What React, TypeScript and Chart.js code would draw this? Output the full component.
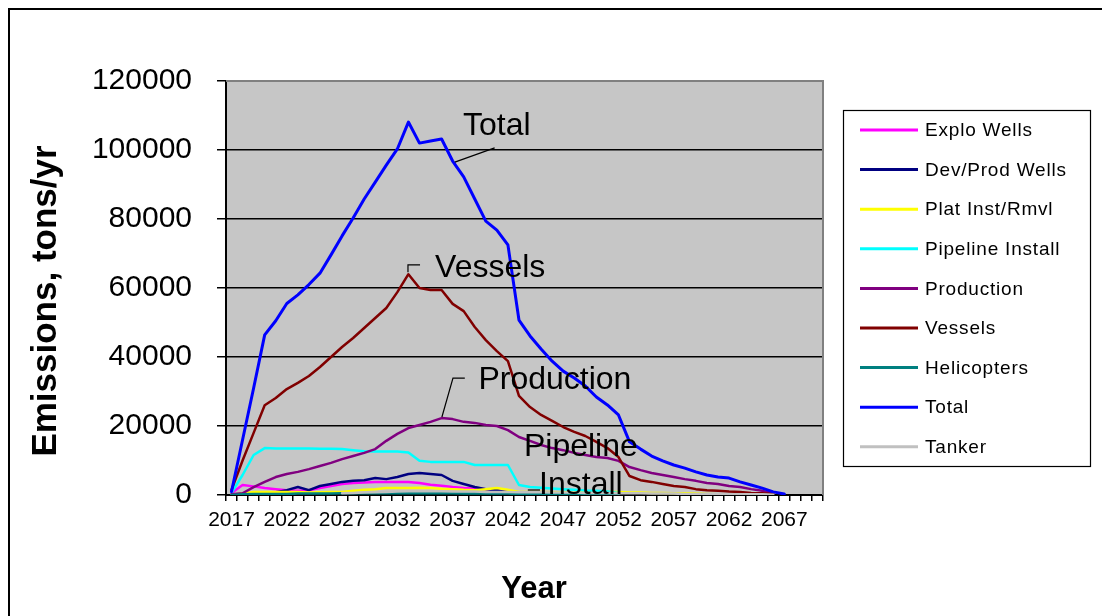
import React, { useEffect, useRef } from "react";
import { Chart, registerables } from "chart.js";

Chart.register(...registerables);

const FONT = 'Arial, "Liberation Sans", Helvetica, sans-serif';

const years = [
  "2017", "2018", "2019", "2020", "2021", "2022", "2023", "2024", "2025", "2026",
  "2027", "2028", "2029", "2030", "2031", "2032", "2033", "2034", "2035", "2036",
  "2037", "2038", "2039", "2040", "2041", "2042", "2043", "2044", "2045", "2046",
  "2047", "2048", "2049", "2050", "2051", "2052", "2053", "2054", "2055", "2056",
  "2057", "2058", "2059", "2060", "2061", "2062", "2063", "2064", "2065", "2066",
  "2067", "2068", "2069", "2070",
];

const xTickLabels = ["2017", "2022", "2027", "2032", "2037", "2042", "2047", "2052", "2057", "2062", "2067"];
const yTickStep = 20000;
const yMax = 120000;
const xTitle = "Year";
const yTitle = "Emissions, tons/yr";

const N = null;

const exploWells = [
  600, 2900, 2500, 2000, 1700, 1400, 1200, 1400, 2000, 2600,
  3200, 3500, 3600, 3800, 3800, 3800, 3800, 3500, 3000, 2700,
  2300, 2000, 1900, 1700, 1400, 1000, 600, 300, N, N,
  N, N, N, N, N, N, N, N, N, N,
  N, N, N, N, N, N, N, N, N, N,
  N, N, N, N,
];

const devProdWells = [
  0, 300, 500, 600, 800, 1400, 2300, 1400, 2600, 3200,
  3800, 4100, 4300, 4900, 4600, 5200, 6100, 6400, 6100, 5800,
  4100, 3200, 2300, 1700, 1400, 900, 500, 300, N, N,
  N, N, N, N, N, N, N, N, N, N,
  N, N, N, N, N, N, N, N, N, N,
  N, N, N, N,
];

const platInstRmvl = [
  0, 500, 900, 900, 900, 900, 900, 700, 800, 900,
  900, 1200, 1500, 1700, 2000, 2000, 2000, 2100, 2000, 1800,
  1700, 1500, 1400, 1700, 2000, 1500, 900, 900, 900, 800,
  800, 900, 900, 800, 900, 900, 700, 700, 600, 600,
  500, 500, 400, 300, 200, N, N, N, N, N,
  N, N, N, N,
];

const pipelineInstall = [
  600, 5800, 11600, 13600, 13500, 13500, 13500, 13500, 13400, 13400,
  13300, 13000, 12700, 12600, 12600, 12600, 12300, 9900, 9600, 9600,
  9600, 9600, 8700, 8700, 8700, 8700, 2900, 2300, 2100, 1900,
  1700, 1500, 1300, 1200, 1000, 600, N, N, N, N,
  N, N, N, N, N, N, N, N, N, N,
  N, N, N, N,
];

const production = [
  200, 500, 2300, 3800, 5200, 6100, 6700, 7500, 8400, 9300,
  10400, 11300, 12200, 13300, 15700, 17700, 19400, 20300, 21200, 22300,
  22000, 21200, 20900, 20300, 20000, 18800, 16800, 15700, 14500, 13600,
  13000, 12200, 11600, 11000, 10700, 9900, 8100, 7200, 6400, 5800,
  5200, 4600, 4100, 3500, 3200, 2600, 2300, 1700, 1200, 600,
  N, N, N, N,
];

const vessels = [
  1500, 10000, 18000, 26000, 28100, 30700, 32500, 34500, 37100, 40000,
  42900, 45500, 48400, 51300, 54200, 58800, 64000, 60000, 59400, 59400,
  55400, 53300, 48700, 44900, 41700, 38800, 28700, 25500, 23200, 21500,
  19700, 18300, 17100, 15400, 13600, 11000, 5500, 4300, 3800, 3200,
  2600, 2300, 1700, 1400, 1200, 1000, 900, 600, 500, 300,
  N, N, N, N,
];

const helicopters = [
  0, 200, 300, 300, 300, 300, 400, 400, 400, 400,
  500, 500, 500, 500, 500, 500, 500, 500, 500, 500,
  500, 400, 400, 400, 400, 400, 300, 300, 300, 300,
  300, 300, 300, 300, 300, 200, N, N, N, N,
  N, N, N, N, N, N, N, N, N, N,
  N, N, N, N,
];

const total = [
  1000, 16000, 31000, 46400, 50500, 55500, 58000, 61000, 64300, 69600,
  75100, 80300, 85800, 90700, 95600, 100300, 108100, 102000, 102600, 103200,
  96800, 92200, 85800, 79400, 76800, 72500, 50700, 46100, 42300, 38800,
  35900, 33900, 31600, 28400, 26100, 23200, 15400, 13300, 11300, 9900,
  8700, 7800, 6700, 5800, 5200, 4900, 3800, 2900, 2000, 900,
  300, N, N, N,
];

const tanker = [
  N, N, N, N, N, N, N, N, N, N,
  500, 600, 700, 800, 900, 1000, 1100, 1100, 1100, 1100,
  1000, 1000, 1000, 900, 900, 900, 800, 800, 800, 700,
  700, 700, 600, 600, 600, 500, 500, 500, 400, 400,
  400, 300, 300, 300, 300, 200, 200, 200, 200, 100,
  N, N, N, N,
];

const seriesNames = [
  "Explo Wells", "Dev/Prod Wells", "Plat Inst/Rmvl", "Pipeline Install",
  "Production", "Vessels", "Helicopters", "Total", "Tanker",
];
const seriesValues = [
  exploWells, devProdWells, platInstRmvl, pipelineInstall,
  production, vessels, helicopters, total, tanker,
];
const seriesColors = [
  "#FF00FF", "#000080", "#FFFF00", "#00FFFF",
  "#800080", "#800000", "#008080", "#0000FF", "#C0C0C0",
];

// in-chart callouts: [category index, value] anchors
const callouts = [
  { text: ["Total"], at: [24.0, 107000], leader: [[20.2, 96500], [23.8, 100600]] },
  { text: ["Vessels"], at: [23.4, 65800], leader: [[15.96, 64600], [15.96, 66700], [17.05, 66700]] },
  { text: ["Production"], at: [29.25, 33300], leader: [[19.03, 22600], [20.03, 33900], [21.1, 33900]] },
  { text: ["Pipeline", "Install"], at: [31.6, 13900], leader: [[26.8, 1450], [27.9, 1450]] },
];

const PLOT_BG = "#C6C6C6";

const decorPlugin = {
  id: "decor",
  beforeDraw(chart: any) {
    const { ctx, chartArea: a, width, height } = chart;
    ctx.save();
    ctx.fillStyle = "#ffffff";
    ctx.fillRect(0, 0, width, height);
    ctx.strokeStyle = "#000";
    ctx.lineWidth = 2;
    ctx.beginPath();
    ctx.moveTo(9, height);
    ctx.lineTo(9, 9);
    ctx.lineTo(width, 9);
    ctx.stroke();
    ctx.fillStyle = PLOT_BG;
    ctx.fillRect(a.left, a.top, a.right - a.left, a.bottom - a.top);
    ctx.restore();
  },
  beforeDatasetsDraw(chart: any) {
    const { ctx, chartArea: a } = chart;
    ctx.save();
    ctx.strokeStyle = "#808080";
    ctx.lineWidth = 2;
    ctx.beginPath();
    ctx.moveTo(a.left, a.top);
    ctx.lineTo(a.right, a.top);
    ctx.lineTo(a.right, a.bottom);
    ctx.stroke();
    ctx.restore();
  },
  afterDatasetsDraw(chart: any) {
    const { ctx } = chart;
    const xs = chart.scales.x;
    const ys = chart.scales.y;
    ctx.save();
    ctx.strokeStyle = "#000";
    ctx.lineWidth = 1.2;
    ctx.fillStyle = "#000";
    ctx.font = `32px ${FONT}`;
    ctx.textAlign = "center";
    ctx.textBaseline = "middle";
    for (const c of callouts) {
      ctx.beginPath();
      c.leader.forEach((p, i) => {
        const px = xs.getPixelForValue(p[0]);
        const py = ys.getPixelForValue(p[1]);
        if (i === 0) ctx.moveTo(px, py);
        else ctx.lineTo(px, py);
      });
      ctx.stroke();
      const tx = xs.getPixelForValue(c.at[0]);
      const ty = ys.getPixelForValue(c.at[1]);
      c.text.forEach((t, i) => ctx.fillText(t, tx, ty + i * 38));
    }
    ctx.restore();
  },
  afterDraw(chart: any) {
    const { ctx } = chart;
    // axis titles
    ctx.save();
    ctx.fillStyle = "#000";
    ctx.textAlign = "center";
    ctx.textBaseline = "middle";
    ctx.font = `bold 31px ${FONT}`;
    ctx.fillText(xTitle, 534, 589);
    ctx.translate(46, 301);
    ctx.rotate(-Math.PI / 2);
    ctx.font = `bold 35px ${FONT}`;
    ctx.fillText(yTitle, 0, 0);
    ctx.restore();

    // legend
    const box = { left: 843, top: 110, right: 1090, bottom: 466 };
    ctx.save();
    ctx.strokeStyle = "#000";
    ctx.lineWidth = 1.2;
    ctx.strokeRect(box.left + 0.5, box.top + 0.5, box.right - box.left, box.bottom - box.top);
    ctx.font = `19px ${FONT}`;
    ctx.textAlign = "left";
    ctx.textBaseline = "middle";
    ctx.fillStyle = "#000";
    try { (ctx as any).letterSpacing = "0.8px"; } catch (e) { /* ignore */ }
    chart.data.datasets.forEach((ds: any, i: number) => {
      const y = 130 + i * 39.6;
      ctx.strokeStyle = ds.borderColor;
      ctx.lineWidth = 3;
      ctx.beginPath();
      ctx.moveTo(860, y);
      ctx.lineTo(918, y);
      ctx.stroke();
      ctx.fillText(ds.label, 925, y + 1);
    });
    try { (ctx as any).letterSpacing = "0px"; } catch (e) { /* ignore */ }
    ctx.restore();
  },
};

export default function App() {
  const ref = useRef<HTMLCanvasElement | null>(null);

  useEffect(() => {
    const canvas = ref.current;
    if (!canvas) return;
    const datasets = seriesNames.map((name, i) => ({
      label: name,
      data: seriesValues[i],
      borderColor: seriesColors[i],
      backgroundColor: seriesColors[i],
      borderWidth: name === "Total" ? 3 : 2.5,
      pointRadius: 0,
      pointHoverRadius: 0,
      tension: 0,
      fill: false,
      borderJoinStyle: "round" as const,
      borderCapStyle: "round" as const,
      order: seriesNames.length - i,
    }));

    const chart = new Chart(canvas, {
      type: "line",
      data: { labels: years, datasets },
      options: {
        responsive: false,
        animation: false,
        devicePixelRatio: 1,
        events: [],
        layout: { padding: { left: 0, top: 81, right: 279, bottom: 0 } },
        plugins: {
          legend: { display: false },
          tooltip: { enabled: false },
          title: { display: false },
        },
        scales: {
          x: {
            type: "category",
            offset: true,
            grid: {
              offset: true,
              drawOnChartArea: false,
              drawTicks: true,
              tickLength: 6,
              tickColor: "#000",
              lineWidth: 1.5,
            },
            border: { color: "#000", width: 2 },
            ticks: {
              autoSkip: false,
              maxRotation: 0,
              minRotation: 0,
              padding: 7,
              color: "#000",
              font: { family: FONT, size: 21 },
              callback: (_v: any, index: number) =>
                xTickLabels.includes(years[index]) ? years[index] : "",
            },
            title: { display: false },
            afterFit: (s: any) => {
              s.height = 121;
            },
          },
          y: {
            min: 0,
            max: yMax,
            grid: {
              color: (c: any) => (c.tick && c.tick.value === yMax ? "#808080" : "#000"),
              tickColor: "#000",
              lineWidth: 1.5,
              tickLength: 9,
            },
            border: { color: "#000", width: 2 },
            ticks: {
              stepSize: yTickStep,
              padding: 25,
              color: "#000",
              font: { family: FONT, size: 30 },
              callback: (v: any) => String(v),
            },
            title: { display: false },
            afterFit: (s: any) => {
              s.width = 226;
            },
          },
        },
      },
      plugins: [decorPlugin],
    } as any);

    return () => chart.destroy();
  }, []);

  return (
    <div style={{ position: "fixed", left: 0, top: 0, width: 1102, height: 616, background: "#fff" }}>
      <canvas ref={ref} width={1102} height={616} style={{ display: "block", width: 1102, height: 616 }} />
    </div>
  );
}
